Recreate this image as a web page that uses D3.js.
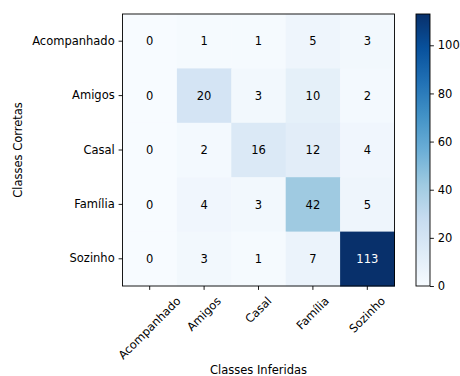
<!DOCTYPE html>
<html>
<head>
<meta charset="utf-8">
<script src="https://cdn.jsdelivr.net/npm/d3@7"></script>
<style>
  body { margin: 0; background: #fff; }
  text { font-family: "DejaVu Sans", sans-serif; fill: #000; }
</style>
</head>
<body>
<svg id="cm"></svg>
<script>
var classes = ["Acompanhado", "Amigos", "Casal", "Família", "Sozinho"];
var counts = [
  [0, 1, 1, 5, 3],
  [0, 20, 3, 10, 2],
  [0, 2, 16, 12, 4],
  [0, 4, 3, 42, 5],
  [0, 3, 1, 7, 113]
];
var colorbarTicks = [0, 20, 40, 60, 80, 100];
var blues = ["#f7fbff", "#deebf7", "#c6dbef", "#9ecae1", "#6baed6",
             "#4292c6", "#2171b5", "#08519c", "#08306b"];

var width = 460, height = 376;
var fs = 11.5, tick = 3.9;
var svg = d3.select("#cm").attr("width", width).attr("height", height);

var box = { left: 122.5, top: 14, size: 272 };
var vmax = d3.max(counts, r => d3.max(r));

var x = d3.scaleBand().domain(classes).range([box.left, box.left + box.size]);
var y = d3.scaleBand().domain(classes).range([box.top, box.top + box.size]);

var color = d3.scaleLinear()
              .domain(blues.map((c, i) => i * vmax / (blues.length - 1)))
              .range(blues);

var cells = [];
counts.forEach((row, i) => row.forEach((v, j) => {
  cells.push({ r: classes[i], c: classes[j], v: v });
}));

svg.append("g").selectAll("rect")
    .data(cells)
    .enter()
    .append("rect")
      .attr("x", d => x(d.c))
      .attr("y", d => y(d.r))
      .attr("width", x.bandwidth() + 0.5)
      .attr("height", y.bandwidth() + 0.5)
      .attr("fill", d => color(d.v));

svg.append("g").selectAll("text")
    .data(cells)
    .enter()
    .append("text")
      .attr("x", d => x(d.c) + x.bandwidth() / 2)
      .attr("y", d => y(d.r) + y.bandwidth() / 2)
      .attr("dy", "0.36em")
      .attr("text-anchor", "middle")
      .style("font-size", fs + "px")
      .style("fill", d => d.v > vmax / 2 ? "#fff" : "#000")
      .text(d => d.v);

svg.append("rect")
    .attr("x", box.left)
    .attr("y", box.top)
    .attr("width", box.size)
    .attr("height", box.size)
    .attr("fill", "none")
    .attr("stroke", "#000")
    .attr("stroke-width", 0.9);

// y axis
var yAxis = d3.axisLeft(y).tickSize(tick).tickPadding(tick);
var gy = svg.append("g")
    .attr("transform", "translate(" + box.left + ",0)")
    .call(yAxis);
gy.select(".domain").remove();
gy.selectAll("text").style("font-size", fs + "px").attr("fill", "#000");
gy.selectAll("line").attr("stroke", "#000").attr("stroke-width", 0.9);

// x axis, labels rotated 45 and centered under tick
var xAxis = d3.axisBottom(x).tickSize(tick).tickFormat("");
var gx = svg.append("g")
    .attr("transform", "translate(0," + (box.top + box.size) + ")")
    .call(xAxis);
gx.select(".domain").remove();
gx.selectAll("line").attr("stroke", "#000").attr("stroke-width", 0.9);

var labelTop = box.top + box.size + tick * 2 + 0.5;
svg.append("g").selectAll("text")
    .data(classes)
    .enter()
    .append("text")
      .style("font-size", fs + "px")
      .attr("text-anchor", "middle")
      .attr("dy", "0.32em")
      .text(d => d)
      .each(function(d) {
        var w = this.getComputedTextLength();
        var h = fs * 1.17;
        var half = (w + h) / Math.SQRT2 / 2;
        var cx = x(d) + x.bandwidth() / 2;
        var cy = labelTop + half;
        d3.select(this)
          .attr("transform", "translate(" + cx + "," + cy + ") rotate(-45)");
      });

// axis titles
svg.append("text")
    .attr("x", box.left + box.size / 2)
    .attr("y", 374)
    .attr("text-anchor", "middle")
    .style("font-size", fs + "px")
    .text("Classes Inferidas");

svg.append("text")
    .attr("transform", "translate(22," + (box.top + box.size / 2) + ") rotate(-90)")
    .attr("text-anchor", "middle")
    .style("font-size", fs + "px")
    .text("Classes Corretas");

// colorbar
var cb = { left: 416, width: 14 };
var grad = svg.append("defs").append("linearGradient")
    .attr("id", "cbgrad")
    .attr("x1", 0).attr("y1", 1).attr("x2", 0).attr("y2", 0);
grad.selectAll("stop")
    .data(blues)
    .enter()
    .append("stop")
      .attr("offset", (d, i) => i / (blues.length - 1))
      .attr("stop-color", d => d);

svg.append("rect")
    .attr("x", cb.left)
    .attr("y", box.top)
    .attr("width", cb.width)
    .attr("height", box.size)
    .attr("fill", "url(#cbgrad)")
    .attr("stroke", "#000")
    .attr("stroke-width", 0.9);

var cScale = d3.scaleLinear().domain([0, vmax]).range([box.top + box.size, box.top]);
var gc = svg.append("g")
    .attr("transform", "translate(" + (cb.left + cb.width) + ",0)")
    .call(d3.axisRight(cScale).tickValues(colorbarTicks).tickSize(tick).tickPadding(tick));
gc.select(".domain").remove();
gc.selectAll("text").style("font-size", fs + "px").attr("fill", "#000");
gc.selectAll("line").attr("stroke", "#000").attr("stroke-width", 0.9);
</script>
</body>
</html>
